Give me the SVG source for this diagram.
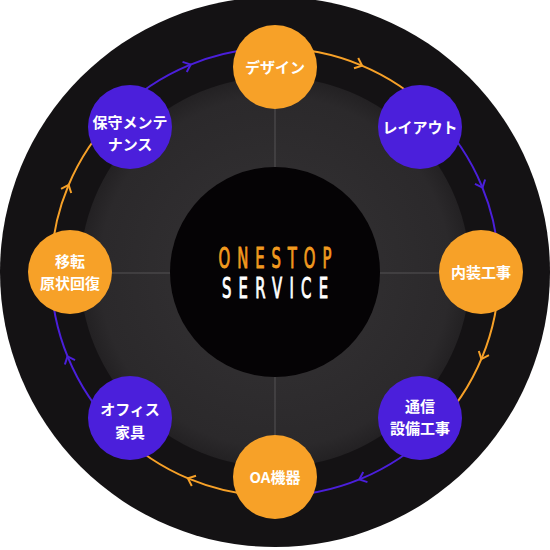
<svg xmlns="http://www.w3.org/2000/svg" width="550" height="550" viewBox="0 0 550 550">
  <defs>
    <radialGradient id="grayGrad" cx="275" cy="272" r="195" gradientUnits="userSpaceOnUse">
      <stop offset="0.55" stop-color="#2f2d2f"/>
      <stop offset="0.9" stop-color="#2b292b"/>
      <stop offset="1" stop-color="#232123"/>
    </radialGradient>
    <marker id="arrowO" viewBox="-8 -8 16 16" refX="0" refY="0" markerWidth="16" markerHeight="16" markerUnits="userSpaceOnUse" orient="auto" overflow="visible">
      <path d="M-5,-5.5 L1.5,0 L-5,5.5" fill="none" stroke="#f7a128" stroke-width="2"/>
    </marker>
    <marker id="arrowP" viewBox="-8 -8 16 16" refX="0" refY="0" markerWidth="16" markerHeight="16" markerUnits="userSpaceOnUse" orient="auto" overflow="visible">
      <path d="M-5,-5.5 L1.5,0 L-5,5.5" fill="none" stroke="#4b1fdb" stroke-width="2"/>
    </marker>
  </defs>
  <style>
    .conn { fill: none; stroke-width: 2; }
    .co { stroke: #f7a128; marker-mid: url(#arrowO); }
    .cp { stroke: #4b1fdb; marker-mid: url(#arrowP); }
    .orange { fill: #f7a128; }
    .purple { fill: #4b1fdb; }
    .lbl { fill: #ffffff; font-family: "Noto Sans CJK JP", "Noto Sans", sans-serif; font-weight: bold; font-size: 15px; text-anchor: middle; }
    .sep { stroke: #555355; stroke-width: 1; }
    .title { font-family: "DejaVu Sans Condensed", "DejaVu Sans", "Liberation Sans", sans-serif; font-size: 27.5px; text-anchor: middle; stroke-width: 0.9; }
  </style>

  <!-- background discs -->
  <circle cx="275" cy="272" r="275" fill="#141214"/>
  <circle cx="275" cy="272" r="195" fill="url(#grayGrad)"/>
  <line class="sep" x1="275" y1="77" x2="275" y2="167"/>
  <line class="sep" x1="275" y1="377" x2="275" y2="467"/>
  <line class="sep" x1="80" y1="273" x2="170" y2="273"/>
  <line class="sep" x1="380" y1="273" x2="470" y2="273"/>
  <circle cx="275" cy="272" r="105" fill="#050305"/>

  <g id="center-title">
    <g transform="translate(275,0) scale(0.6,1)">
      <text class="title" x="0" y="268" fill="#f29a1f" stroke="#f29a1f" textLength="188" lengthAdjust="spacing">ONESTOP</text>
      <text class="title" x="0" y="298" fill="#ffffff" stroke="#ffffff" textLength="177" lengthAdjust="spacing">SERVICE</text>
    </g>
  </g>

  <g id="connectors">
    <path class="conn co" d="M275,48 A224,224 0 0 1 360.72,65.05 A224,224 0 0 1 433.39,113.61"/>
    <path class="conn cp" d="M433.39,113.61 A224,224 0 0 1 481.95,186.28 A224,224 0 0 1 499,272"/>
    <path class="conn co" d="M499,272 A224,224 0 0 1 481.95,357.72 A224,224 0 0 1 433.39,430.39"/>
    <path class="conn cp" d="M433.39,430.39 A224,224 0 0 1 360.72,478.95 A224,224 0 0 1 275,496"/>
    <path class="conn co" d="M275,496 A224,224 0 0 1 189.28,478.95 A224,224 0 0 1 116.61,430.39"/>
    <path class="conn cp" d="M116.61,430.39 A224,224 0 0 1 68.05,357.72 A224,224 0 0 1 51,272"/>
    <path class="conn co" d="M51,272 A224,224 0 0 1 68.05,186.28 A224,224 0 0 1 116.61,113.61"/>
    <path class="conn cp" d="M116.61,113.61 A224,224 0 0 1 189.28,65.05 A224,224 0 0 1 275,48"/>
  </g>

  <g id="node-design">
    <circle class="orange" cx="275" cy="67" r="42"/>
    <text class="lbl" x="275" y="72.5">デザイン</text>
  </g>
  <g id="node-layout">
    <circle class="purple" cx="420" cy="127" r="42"/>
    <text class="lbl" x="420" y="132.5">レイアウト</text>
  </g>
  <g id="node-interior">
    <circle class="orange" cx="481" cy="272" r="42"/>
    <text class="lbl" x="481" y="278">内装工事</text>
  </g>
  <g id="node-network">
    <circle class="purple" cx="420" cy="418" r="42"/>
    <text class="lbl" x="420" y="411.5">通信</text>
    <text class="lbl" x="420" y="433.5">設備工事</text>
  </g>
  <g id="node-oa">
    <circle class="orange" cx="275" cy="477" r="42"/>
    <text class="lbl" x="275" y="482.5">OA機器</text>
  </g>
  <g id="node-furniture">
    <circle class="purple" cx="130" cy="418" r="42"/>
    <text class="lbl" x="130" y="415">オフィス</text>
    <text class="lbl" x="130" y="437.5">家具</text>
  </g>
  <g id="node-relocation">
    <circle class="orange" cx="70" cy="272" r="42"/>
    <text class="lbl" x="70" y="266.5">移転</text>
    <text class="lbl" x="70" y="288.5">原状回復</text>
  </g>
  <g id="node-maintenance">
    <circle class="purple" cx="130" cy="127" r="42"/>
    <text class="lbl" x="130" y="127.5">保守メンテ</text>
    <text class="lbl" x="130" y="150">ナンス</text>
  </g>
</svg>
